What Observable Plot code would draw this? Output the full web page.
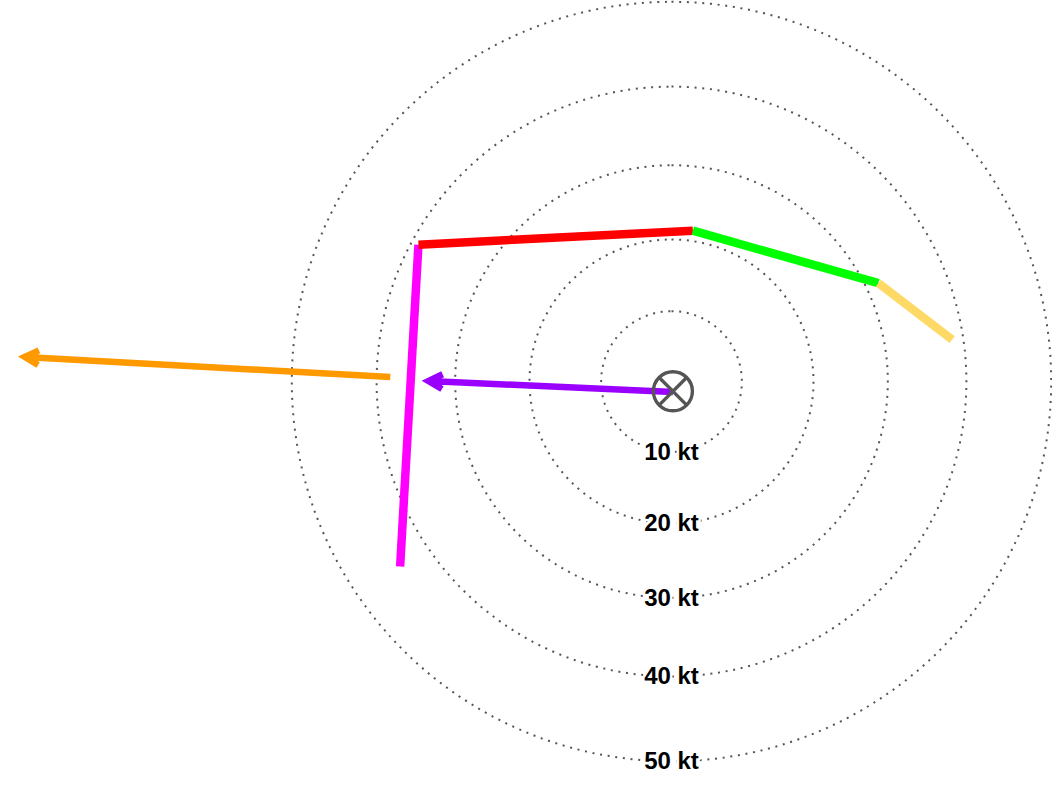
<!DOCTYPE html>
<html><head><meta charset="utf-8">
<script src="https://cdn.jsdelivr.net/npm/d3@7"></script>
<script src="https://cdn.jsdelivr.net/npm/@observablehq/plot@0.6"></script>
<style>body{margin:0;background:#fff}</style>
</head><body><div id="chart"></div>
<script>
// Hodograph trace (wind components, kt)
const hodoU = [-36.4, -34.4, 3.0, 28.6, 38.2];
const hodoV = [-24.8, 18.6, 21.2, 13.6, 5.7];
const layerColors = ["#ff00ff", "#ff0000", "#00ff00", "#ffd966"];

// Motion vectors (kt)
const vectorColors = ["#ff9900", "#9900ff"];
const vectorU1 = [-38.3, 0.2];
const vectorV1 = [0.6, -1.5];
const vectorU2 = [-76.1, -34.1];
const vectorV2 = [2.9, 0.1];

// Centre marker (kt)
const markerU = [0.2];
const markerV = [-1.4];

// Speed rings
const ringSpeeds = [10, 20, 30, 40, 50];
const ringLabels = ["10 kt", "20 kt", "30 kt", "40 kt", "50 kt"];

// Radial (tangent) hodograph projection
const cx = 671, cy = 381, K = 738.4, c = 0.0095;
const hodoProjection = d3.geoTransform({
  point(u, v) {
    const s = Math.hypot(u, v);
    const k = s === 0 ? 0 : K * Math.tan(c * s) / s;
    this.stream.point(cx + u * k, cy - v * k);
  }
});

const ringData = ringSpeeds.flatMap(s =>
  d3.range(0, 361, 2).map(a => ({s, u: s * Math.sin(a * Math.PI / 180), v: s * Math.cos(a * Math.PI / 180)}))
);

const segMarks = layerColors.map((col, i) =>
  Plot.line([i, i + 1], {x: j => hodoU[j], y: j => hodoV[j], stroke: col, strokeWidth: 8.5, strokeLinecap: "butt", strokeLinejoin: "miter"})
);

const arrowMarks = vectorColors.map((col, i) =>
  Plot.arrow([i], {x1: j => vectorU1[j], y1: j => vectorV1[j], x2: j => vectorU2[j], y2: j => vectorV2[j],
    stroke: col, strokeWidth: 6.5, headLength: 3.6, headAngle: 56, insetEnd: 5,
    strokeLinecap: "butt", strokeLinejoin: "miter", strokeMiterlimit: 4})
);

const chart = Plot.plot({
  width: 1052,
  height: 796,
  margin: 0,
  projection: hodoProjection,
  style: {background: "#fff"},
  marks: [
    Plot.line(ringData, {x: "u", y: "v", z: "s", stroke: "#555", strokeWidth: 2, strokeDasharray: "2,5.7", strokeLinecap: "butt"}),
    ...segMarks,
    ...arrowMarks,
    Plot.dot(markerU, {x: markerU, y: markerV, r: 19.5, stroke: "#555", strokeWidth: 3.4, fill: "none"}),
    Plot.dot(markerU, {x: markerU, y: markerV, r: 12.8, symbol: "times", stroke: "#555", strokeWidth: 3.4}),
    Plot.text(ringLabels, {x: () => 0, y: (d, i) => -ringSpeeds[i], text: d => d,
      fontFamily: "Liberation Sans", fontWeight: "bold", fontSize: 24, fill: "#000",
      stroke: "#fff", strokeWidth: 5, textAnchor: "middle", lineAnchor: "middle"})
  ]
});
document.getElementById("chart").appendChild(chart);
</script>
</body></html>
